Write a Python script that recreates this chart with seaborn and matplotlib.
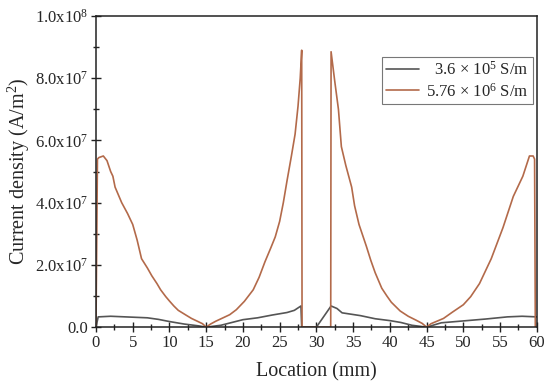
import numpy as np
import pandas as pd
import seaborn as sns
import matplotlib.pyplot as plt
from matplotlib.ticker import FixedLocator, MultipleLocator

# red curve (5.76e6 S/m), values in 1e6 A/m^2
x_hi = [0.0, 0.2, 0.4, 1.0, 1.5, 2.0, 2.3, 2.6, 3.5, 4.3, 5.0, 5.6, 6.2, 7.0, 7.6, 8.3,
        8.8, 9.5, 10.0, 10.6, 11.2, 12.3, 13.0, 13.8, 14.5, 15.0, 15.6, 16.3, 17.3,
        18.2, 19.1, 20.2, 21.4, 22.2, 23.0, 23.8, 24.4, 25.0, 25.5, 26.0, 26.6, 27.1,
        27.5, 27.8, 28.0, 28.05, 30.0, 31.95, 32.0, 32.5, 33.0, 33.4, 34.0, 34.8, 35.2,
        35.8, 36.8, 37.4, 38.0, 38.9, 39.6, 40.2, 41.4, 42.5, 43.6, 44.4, 45.0, 45.6,
        46.4, 47.3, 48.5, 50.0, 51.0, 52.2, 53.0, 53.8, 54.6, 55.4, 56.1, 56.8, 57.5,
        58.1, 59.0, 59.5, 59.7, 59.8]
y_hi = [0.0, 54.0, 54.5, 55.0, 53.5, 50.0, 48.5, 45.0, 40.0, 36.5, 33.0, 28.0, 22.0, 19.0,
        16.5, 14.0, 12.0, 9.8, 8.4, 6.8, 5.4, 3.8, 2.8, 1.9, 1.1, 0.0, 1.0, 1.9, 3.0,
        4.0, 5.6, 8.3, 12.0, 16.0, 21.0, 25.5, 29.0, 34.0, 40.0, 47.0, 55.0, 62.0,
        71.0, 80.0, 89.0, 0.0, 0.0, 0.0, 88.5, 79.0, 70.0, 58.0, 52.0, 45.0, 39.0,
        33.0, 26.0, 21.5, 17.5, 12.5, 10.0, 8.0, 5.2, 3.5, 2.2, 1.2, 0.0, 1.1,
        1.9, 2.8, 4.8, 7.2, 9.8, 14.0, 18.0, 22.0, 27.0, 32.0, 37.0, 42.0, 45.5,
        48.5, 55.0, 55.0, 54.0, 0.0]

# dark curve (3.6e5 S/m)
x_lo = [0.0, 0.3, 2.0, 5.0, 7.0, 8.5, 10.0, 12.0, 14.0, 15.0, 16.0, 17.0, 18.5, 20.0, 22.0,
        24.0, 26.0, 27.0, 27.9, 28.0, 30.0, 32.0, 32.8, 33.5, 36.0, 38.0, 40.0, 41.5,
        43.0, 45.0, 46.0, 47.0, 50.0, 53.0, 56.0, 58.0, 60.0]
y_lo = [0.0, 3.3, 3.5, 3.2, 3.0, 2.5, 1.8, 1.0, 0.4, 0.0, 0.3, 0.6, 1.5, 2.4, 3.0,
        3.9, 4.7, 5.4, 6.8, 0.0, 0.0, 6.8, 6.0, 4.6, 3.7, 2.7, 2.1, 1.5,
        0.6, 0.0, 0.7, 1.4, 2.0, 2.6, 3.3, 3.5, 3.3]

# figure space in front of the first label so both texts end at the same x
labels = ["\u2007" + r"3.6 $\times$ 10$^{5}$ S/m", r"5.76 $\times$ 10$^{6}$ S/m"]
yticks = [0, 2e7, 4e7, 6e7, 8e7, 1e8]
ytick_labels = ["0.0", r"2.0x10$^{7}$", r"4.0x10$^{7}$", r"6.0x10$^{7}$",
                r"8.0x10$^{7}$", r"1.0x10$^{8}$"]

df = pd.concat([
    pd.DataFrame({"x": x_lo, "y": np.array(y_lo) * 1e6, "s": labels[0]}),
    pd.DataFrame({"x": x_hi, "y": np.array(y_hi) * 1e6, "s": labels[1]}),
])

sns.set_style("ticks")
plt.rcParams["font.family"] = ["Liberation Serif", "DejaVu Serif"]
plt.rcParams["mathtext.fontset"] = "custom"
plt.rcParams["mathtext.rm"] = "Liberation Serif"
plt.rcParams["mathtext.it"] = "Liberation Serif:italic"

fig = plt.figure(figsize=(5.5, 3.89), dpi=100)
ax = fig.add_axes([0.1745, 0.159, 0.8015, 0.8])

sns.lineplot(data=df, x="x", y="y", hue="s", estimator=None, sort=False,
             palette=["#555555", "#b36a4a"], linewidth=1.2, ax=ax)

ax.set_xlim(0, 60)
ax.set_ylim(0, 1e8)
ax.xaxis.set_major_locator(MultipleLocator(5))
ax.xaxis.set_minor_locator(MultipleLocator(2.5))
ax.yaxis.set_major_locator(FixedLocator(yticks))
ax.set_yticklabels(ytick_labels)
ax.yaxis.set_minor_locator(MultipleLocator(1e7))
ax.tick_params(which="both", direction="inout", top=False, right=False,
               labelsize=12, color="#222222")
ax.tick_params(which="major", length=7, width=1, pad=2)
ax.tick_params(which="minor", length=4, width=1)
for sp in ax.spines.values():
    sp.set_visible(True)
    sp.set_linewidth(1.1)
    sp.set_color("#222222")

ax.set_xlabel("Location (mm)", fontsize=14.5, labelpad=8)
ax.set_ylabel(r"Current density (A/m$^{2}$)", fontsize=14.5, labelpad=2)

leg = ax.legend(loc="upper right", bbox_to_anchor=(0.991, 0.868), fontsize=12,
                frameon=True, fancybox=False, edgecolor="#555555",
                handlelength=2.0, handletextpad=0.4, borderpad=0.25, labelspacing=0.2,
                borderaxespad=0.0)
leg.get_frame().set_linewidth(0.8)

fig.savefig("out.png", dpi=100)
